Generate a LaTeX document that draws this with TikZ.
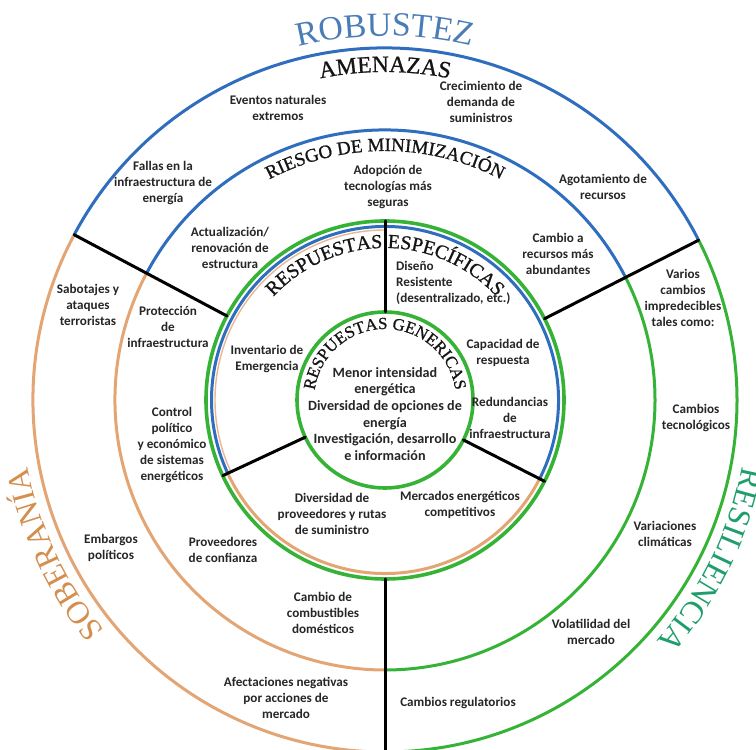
\documentclass[tikz,border=0pt]{standalone}
\usepackage{fontspec}
\setmainfont{Carlito}
\newfontfamily\titleserif{Liberation Serif}
\newfontfamily\heavyserif[FakeBold=0.9]{Liberation Serif}
\usetikzlibrary{calc,decorations.text}

\definecolor{ringblue}{HTML}{2F6DBE}
\definecolor{ringgreen}{HTML}{36B336}
\definecolor{ringorange}{HTML}{E4A574}
\definecolor{robblue}{HTML}{4A7CB8}
\definecolor{sobtan}{HTML}{D48E4E}
\definecolor{resgreen}{HTML}{1F9E6C}
\definecolor{labelgray}{HTML}{262626}
\definecolor{titleblack}{HTML}{151515}

\tikzset{
  ring/.style={line width=3bp},
  thickring/.style={line width=3.6bp},
  divider/.style={line width=3bp, black, line cap=round},
  lbl/.style={font=\bfseries\fontsize{13.2}{16}\selectfont, text=labelgray,
              align=center, inner sep=0pt},
  corelbl/.style={lbl, font=\bfseries\fontsize{14.2}{16.7}\selectfont},
}

% curved title: radius, start angle, end angle, font switch, colour, text
\newcommand{\curvedtitle}[6]{%
  \path[decorate, decoration={text along path, text align=center,
        text color=#5,
        text={|#4|#6}}]
    ($(O)+(#2:#1)$) arc[start angle=#2, end angle=#3, radius=#1];}

\begin{document}
\begin{tikzpicture}[x=1bp, y=1bp]
\clip (0,0) rectangle (756,750);
\fill[white] (0,0) rectangle (756,750);

\coordinate (O) at (385,350);

% ---- outer ring (threats) ----
\draw[ring, ringblue]   ($(O)+(27:352bp)$)  arc[start angle=27,  end angle=152, radius=352bp];
\draw[ring, ringorange] ($(O)+(152:352bp)$) arc[start angle=152, end angle=270, radius=352bp];
\draw[ring, ringgreen]  ($(O)+(270:352bp)$) arc[start angle=270, end angle=387, radius=352bp];

% ---- second ring (risk minimisation) ----
\draw[ring, ringblue]   ($(O)+(27:270bp)$)  arc[start angle=27,  end angle=152, radius=270bp];
\draw[ring, ringorange] ($(O)+(152:270bp)$) arc[start angle=152, end angle=270, radius=270bp];
\draw[ring, ringgreen]  ($(O)+(270:270bp)$) arc[start angle=270, end angle=387, radius=270bp];

% ---- specific responses ring ----
\draw[thickring, ringgreen] (O) circle[radius=179bp];
\draw[ring, ringblue]   ($(O)+(-27:173.5bp)$) arc[start angle=-27, end angle=205, radius=173.5bp];
\draw[ring, ringorange] ($(O)+(205:173.5bp)$) arc[start angle=205, end angle=333, radius=173.5bp];
\draw[line width=1.4bp, ringorange!80] ($(O)+(90:170bp)$) arc[start angle=90, end angle=205, radius=170bp];

% ---- generic responses core ----
\draw[thickring, ringgreen] (O) circle[radius=88bp];

% ---- sector dividers ----
\coordinate (ulout) at ($(O)+(152:352bp)$);
\coordinate (ulin)  at ($(O)+(152:179bp)$);
\coordinate (urout) at ($(O)+(27:352bp)$);
\coordinate (urin)  at ($(O)+(27:179bp)$);
\coordinate (topout) at ($(O)+(90:179bp)$);
\coordinate (topin)  at ($(O)+(90:88bp)$);
\coordinate (llout) at ($(O)+(205:179bp)$);
\coordinate (llin)  at ($(O)+(205:88bp)$);
\coordinate (lrout) at ($(O)+(-27:179bp)$);
\coordinate (lrin)  at ($(O)+(-27:88bp)$);
\coordinate (botin)  at ($(O)+(270:179bp)$);
\coordinate (botout) at ($(O)+(270:356bp)$);

\draw[divider] (ulin) -- (ulout);
\draw[divider] (urin) -- (urout);
\draw[divider] (topin) -- (topout);
\draw[divider] (llin) -- (llout);
\draw[divider] (lrin) -- (lrout);
\draw[divider] (botin) -- (botout);

% ---- curved titles ----
\curvedtitle{364bp}{120}{60}{\titleserif\fontsize{34}{34}\selectfont}{robblue}{ROBUSTEZ}
\curvedtitle{363bp}{240}{170}{\titleserif\fontsize{32}{32}\selectfont}{sobtan}{SOBERANÍA}
\curvedtitle{363bp}{9}{-61}{\titleserif\fontsize{32}{32}\selectfont}{resgreen}{RESILIENCIA}
\curvedtitle{328bp}{120}{60}{\heavyserif\fontsize{23.5}{23.5}\selectfont}{titleblack}{AMENAZAS}
\curvedtitle{249bp}{135}{45}{\heavyserif\fontsize{19}{19}\selectfont}{titleblack}{RIESGO DE MINIMIZACIÓN}
\curvedtitle{152bp}{160}{20}{\heavyserif\fontsize{20}{20}\selectfont}{titleblack}{RESPUESTAS ESPECÍFICAS}
\curvedtitle{71bp}{180}{0}{\heavyserif\fontsize{17}{17}\selectfont}{titleblack}{RESPUESTAS GENERICAS}

% ---- outer ring labels ----
\node[lbl] (evnat)  at (278,642) {Eventos naturales\\extremos};
\node[lbl] (crec)   at (481,648) {Crecimiento de\\demanda de\\suministros};
\node[lbl] (fallas) at (163,567) {Fallas en la\\infraestructura de\\energía};
\node[lbl] (agot)   at (603,563) {Agotamiento de\\recursos};
\node[lbl] (sabot)  at (88,445)  {Sabotajes y\\ataques\\terroristas};
\node[lbl] (varios) at (683,452) {Varios\\cambios\\impredecibles\\tales como:};
\node[lbl] (tecno)  at (696,332) {Cambios\\tecnológicos};
\node[lbl] (embar)  at (111,202) {Embargos\\políticos};
\node[lbl] (clima)  at (665,216) {Variaciones\\climáticas};
\node[lbl] (volat)  at (591,118) {Volatilidad del\\mercado};
\node[lbl] (afect)  at (286,52)  {Afectaciones negativas\\por acciones de\\mercado};
\node[lbl] (regul)  at (458,47)  {Cambios regulatorios};

% ---- second ring labels ----
\node[lbl] (adop)   at (388,563) {Adopción de\\tecnologías más\\seguras};
\node[lbl] (actual) at (230,502) {Actualización/\\renovación de\\estructura};
\node[lbl] (cambrec) at (558,496) {Cambio a\\recursos más\\abundantes};
\node[lbl] (protec) at (168,423) {Protección\\de\\infraestructura};
\node[lbl] (control) at (172,305) {Control\\político\\y económico\\de sistemas\\energéticos};
\node[lbl] (prov)   at (223,200) {Proveedores\\de confianza};
\node[lbl] (combus) at (323,137) {Cambio de\\combustibles\\domésticos};

% ---- specific responses labels ----
\node[lbl, anchor=west, align=left] (diseno) at (396,467) {Diseño\\Resistente\\(desentralizado, etc.)};
\node[lbl] (invent) at (267,391) {Inventario de\\Emergencia};
\node[lbl] (capac)  at (503,397) {Capacidad de\\respuesta};
\node[lbl] (redund) at (510,332) {Redundancias\\de\\infraestructura};
\node[lbl] (divprov) at (332,236) {Diversidad de\\proveedores y rutas\\de suministro};
\node[lbl] (merc)   at (460,245) {Mercados energéticos\\competitivos};

% ---- generic responses ----
\node[corelbl] (core) at (385,336) {Menor intensidad\\energética\\Diversidad de opciones de\\energía\\Investigación, desarrollo\\e información};

\end{tikzpicture}
\end{document}
